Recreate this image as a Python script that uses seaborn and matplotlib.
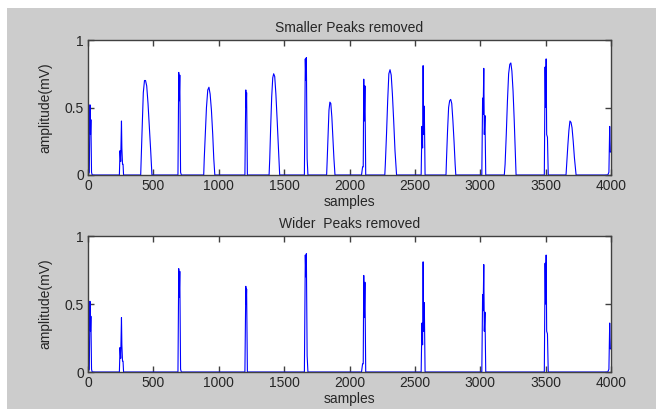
import matplotlib
matplotlib.use("Agg")
import matplotlib.pyplot as plt
import seaborn as sns
import pandas as pd
from matplotlib.patches import Rectangle

sns.set_theme(style="white")
plt.rcParams['font.family'] = ['Liberation Sans', 'DejaVu Sans']

# ---- data: peak vertices (sample index, amplitude in mV) ----
# narrow (kept) peaks
p1_s = [0, 10, 15, 19, 22, 27, 32]
p1_a = [0, 0.02, 0.52, 0.30, 0.41, 0.02, 0]
p2_s = [240, 245, 250, 256, 259, 264, 268, 272]
p2_a = [0, 0.18, 0.10, 0.40, 0.20, 0.08, 0.08, 0]
p4_s = [688, 694, 698, 702, 708, 714]
p4_a = [0, 0.76, 0.55, 0.74, 0.02, 0]
p6_s = [1200, 1207, 1210, 1213, 1219]
p6_a = [0, 0.63, 0.50, 0.61, 0]
p8_s = [1655, 1662, 1666, 1670, 1676, 1682]
p8_a = [0, 0.86, 0.70, 0.87, 0.12, 0]
p10_s = [2092, 2100, 2105, 2109, 2113, 2118, 2124]
p10_a = [0, 0.06, 0.06, 0.71, 0.40, 0.66, 0]
p12_s = [2548, 2554, 2559, 2563, 2567, 2572, 2578]
p12_a = [0, 0.36, 0.20, 0.81, 0.30, 0.51, 0]
p14_s = [3012, 3018, 3022, 3027, 3031, 3036, 3042]
p14_a = [0, 0.57, 0.45, 0.79, 0.30, 0.44, 0]
p16_s = [3490, 3496, 3500, 3504, 3508, 3514, 3520]
p16_a = [0, 0.80, 0.50, 0.86, 0.30, 0.28, 0]
p18_s = [3975, 3984, 3990, 3995, 4000]
p18_a = [0, 0.02, 0.36, 0.17, 0.17]

# wider peaks (present only in the top panel)
p3_s = [403, 406, 413, 423, 432, 440, 449, 459, 469, 480, 489]
p3_a = [0, 0.10, 0.31, 0.61, 0.70, 0.70, 0.66, 0.53, 0.36, 0.17, 0]
p5_s = [885, 889, 897, 906, 916, 925, 934, 944, 954, 962, 970]
p5_a = [0, 0.12, 0.30, 0.50, 0.63, 0.65, 0.60, 0.48, 0.30, 0.12, 0]
p7_s = [1385, 1390, 1397, 1405, 1413, 1420, 1428, 1437, 1447, 1457, 1466]
p7_a = [0, 0.12, 0.35, 0.58, 0.72, 0.75, 0.73, 0.60, 0.40, 0.18, 0]
p9_s = [1825, 1829, 1836, 1843, 1850, 1857, 1865, 1873, 1881, 1889]
p9_a = [0, 0.10, 0.30, 0.48, 0.54, 0.53, 0.43, 0.28, 0.12, 0]
p11_s = [2270, 2274, 2283, 2292, 2301, 2310, 2319, 2328, 2338, 2348, 2360]
p11_a = [0, 0.08, 0.30, 0.55, 0.75, 0.78, 0.74, 0.60, 0.40, 0.18, 0]
p13_s = [2738, 2742, 2750, 2758, 2766, 2774, 2782, 2791, 2800, 2808, 2813]
p13_a = [0, 0.12, 0.33, 0.50, 0.55, 0.56, 0.53, 0.40, 0.24, 0.08, 0]
p15_s = [3184, 3190, 3199, 3208, 3217, 3226, 3234, 3242, 3251, 3260, 3268, 3274]
p15_a = [0, 0.08, 0.30, 0.55, 0.75, 0.82, 0.83, 0.77, 0.62, 0.40, 0.18, 0]
p17_s = [3656, 3662, 3670, 3678, 3686, 3694, 3702, 3711, 3720, 3728, 3733]
p17_a = [0, 0.10, 0.22, 0.33, 0.40, 0.39, 0.35, 0.25, 0.13, 0.05, 0]

narrow = [(p1_s, p1_a), (p2_s, p2_a), (p4_s, p4_a), (p6_s, p6_a), (p8_s, p8_a),
          (p10_s, p10_a), (p12_s, p12_a), (p14_s, p14_a), (p16_s, p16_a), (p18_s, p18_a)]
wide = [(p3_s, p3_a), (p5_s, p5_a), (p7_s, p7_a), (p9_s, p9_a), (p11_s, p11_a),
        (p13_s, p13_a), (p15_s, p15_a), (p17_s, p17_a)]

x_ticks = [0, 500, 1000, 1500, 2000, 2500, 3000, 3500, 4000]
y_ticks = [0, 0.5, 1]
titles = ["Smaller Peaks removed", "Wider  Peaks removed"]


def build(peaks):
    peaks = sorted(peaks, key=lambda p: p[0][0])
    xs, ys = [], []
    for s, a in peaks:
        xs.extend(s)
        ys.extend(a)
    return pd.DataFrame({"samples": xs, "amp": ys})


df_top = build(narrow + wide)
df_bot = build(narrow)

W, H = 656, 409
fig = plt.figure(figsize=(W / 100, H / 100), dpi=100, facecolor="white")
fig.patches.append(Rectangle((7 / W, 0), 1 - 7 / W, 1 - 8 / H, transform=fig.transFigure,
                             facecolor="#cccccc", edgecolor="none", zorder=-10))

ax_top = fig.add_axes([88 / W, (H - 175) / H, 523 / W, 135 / H])
ax_bot = fig.add_axes([88 / W, (H - 372) / H, 523 / W, 136 / H])

txt = "#262626"
for ax, df, title in [(ax_top, df_top, titles[0]), (ax_bot, df_bot, titles[1])]:
    sns.lineplot(data=df, x="samples", y="amp", ax=ax, sort=False, estimator=None,
                 color="#0000ff", linewidth=0.8)
    ax.set_facecolor("white")
    ax.set_xlim(0, 4000)
    ax.set_ylim(0, 1)
    ax.set_xticks(x_ticks)
    ax.set_xticklabels([str(v) for v in x_ticks])
    ax.set_yticks(y_ticks)
    ax.set_yticklabels(["0", "0.5", "1"])
    ax.tick_params(direction="in", length=4, width=1, top=True, right=True,
                   bottom=True, left=True, labelsize=10, colors="#404040",
                   labelcolor=txt, pad=3)
    for sp in ax.spines.values():
        sp.set_color("#404040")
        sp.set_linewidth(1.0)
    ax.set_title(title, fontsize=10, color=txt, pad=6)
    ax.set_xlabel("samples", fontsize=10, color=txt, labelpad=1)
    ax.set_ylabel("amplitude(mV)", fontsize=10, color=txt, labelpad=9)

fig.savefig("out.png", dpi=100, facecolor=fig.get_facecolor())
